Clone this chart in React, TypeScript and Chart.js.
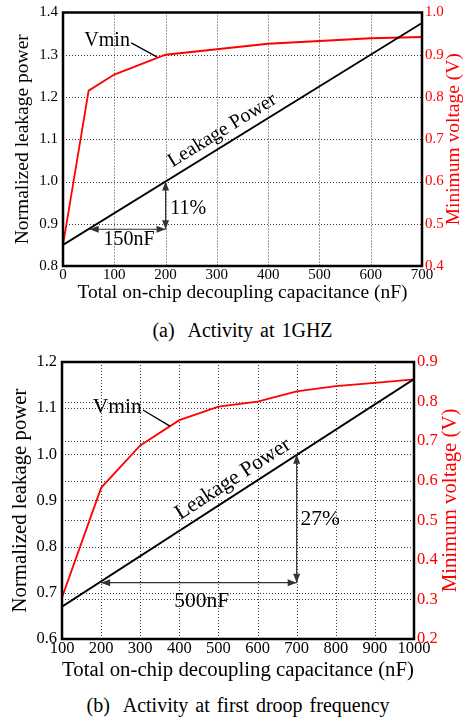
import React, { useEffect, useRef } from "react";
import { Chart, registerables } from "chart.js";

Chart.register(...registerables);

const SERIF = '"Liberation Serif", "Times New Roman", serif';
const W = 473;

// ---------- Panel (a): Activity at 1GHZ ----------
const A_LEAK_X = [0, 700];
const A_LEAK_Y = [0.85, 1.375];
const A_VMIN_X = [0, 50, 100, 200, 400, 600, 700];
const A_VMIN_Y = [0.45, 0.815, 0.853, 0.9, 0.926, 0.939, 0.942];
const A_X_TICKS = [0, 100, 200, 300, 400, 500, 600, 700];
const A_YL_TICKS = [0.8, 0.9, 1.0, 1.1, 1.2, 1.3, 1.4];
const A_YR_TICKS = [0.4, 0.5, 0.6, 0.7, 0.8, 0.9, 1.0];

// ---------- Panel (b): Activity at first droop frequency ----------
const B_LEAK_X = [100, 1000];
const B_LEAK_Y = [0.67, 1.163];
const B_VMIN_X = [100, 200, 300, 400, 500, 600, 700, 800, 900, 1000];
const B_VMIN_Y = [0.305, 0.582, 0.689, 0.753, 0.787, 0.8, 0.826, 0.839, 0.847, 0.856];
const B_X_TICKS = [100, 200, 300, 400, 500, 600, 700, 800, 900, 1000];
const B_YL_TICKS = [0.6, 0.7, 0.8, 0.9, 1.0, 1.1, 1.2];
const B_YR_TICKS = [0.2, 0.3, 0.4, 0.5, 0.6, 0.7, 0.8, 0.9];

// annotations (data coordinates, left axis)
const A_ANN = {
  vminLabel: [86, 1.321],
  leader: [[133, 1.328], [183, 1.295]],
  leakLabel: [316, 1.11],
  arrows: [
    [[52, 0.887], [200, 0.887]],
    [[200, 0.887], [200, 1.0]],
  ],
  texts: [
    ["11%", 244, 0.923],
    ["150nF", 129, 0.849],
  ],
};
const B_ANN = {
  vminLabel: [241, 1.09],
  leader: [[307, 1.096], [376, 1.061]],
  leakLabel: [545, 0.936],
  arrows: [
    [[200, 0.722], [700, 0.722]],
    [[700, 0.722], [700, 0.999]],
  ],
  texts: [
    ["27%", 760, 0.847],
    ["500nF", 457, 0.67],
  ],
};

const PANEL_A = {
  top: 0,
  height: 310,
  area: { left: 63, right: 422, top: 9, bottom: 266 },
  leakX: A_LEAK_X, leakY: A_LEAK_Y, vminX: A_VMIN_X, vminY: A_VMIN_Y,
  xTicks: A_X_TICKS, ylTicks: A_YL_TICKS, yrTicks: A_YR_TICKS,
  tickSize: 15, tickPadX: 2, tickPadY: 5, tickPadY1: 3,
  titleSize: 19.5, xTitlePad: 5.3, yTitlePad: 11, rTitleOff: 32,
  annSize: 20,
  ann: A_ANN,
};
const PANEL_B = {
  top: 340,
  height: 350,
  area: { left: 62, right: 414, top: 22, bottom: 299 },
  leakX: B_LEAK_X, leakY: B_LEAK_Y, vminX: B_VMIN_X, vminY: B_VMIN_Y,
  xTicks: B_X_TICKS, ylTicks: B_YL_TICKS, yrTicks: B_YR_TICKS,
  tickSize: 16.5, tickPadX: 1, tickPadY: 5, tickPadY1: 3,
  titleSize: 20.8, xTitlePad: 6.5, yTitlePad: 8, rTitleOff: 37,
  annSize: 21.5,
  ann: B_ANN,
};

function drawArrowHead(ctx: CanvasRenderingContext2D, x: number, y: number, ang: number) {
  const len = 9;
  const hw = 3.5;
  ctx.beginPath();
  ctx.moveTo(x, y);
  ctx.lineTo(x - len * Math.cos(ang) + hw * Math.sin(ang), y - len * Math.sin(ang) - hw * Math.cos(ang));
  ctx.lineTo(x - len * Math.cos(ang) - hw * Math.sin(ang), y - len * Math.sin(ang) + hw * Math.cos(ang));
  ctx.closePath();
  ctx.fill();
}

function Panel({ p }: { p: any }) {
  const ref = useRef<HTMLCanvasElement>(null);
  useEffect(() => {
    const font = (size: number) => ({ family: SERIF, size, lineHeight: 1 });
    const grid = { display: false, drawTicks: false };
    const border = { display: false };

    const gridPlugin = {
      id: "dottedGrid",
      beforeDatasetsDraw(chart: any) {
        const ctx: CanvasRenderingContext2D = chart.ctx;
        const { left, right, top, bottom } = chart.chartArea;
        ctx.save();
        ctx.strokeStyle = "#3a3a3a";
        ctx.lineWidth = 1;
        ctx.setLineDash([1, 2]);
        const xs = chart.scales.x;
        for (const t of xs.ticks) {
          const x = Math.round(xs.getPixelForValue(t.value)) + 0.5;
          if (x <= left + 1 || x >= right - 1) continue;
          ctx.beginPath();
          ctx.moveTo(x, top);
          ctx.lineTo(x, bottom);
          ctx.stroke();
        }
        for (const id of ["y", "y1"]) {
          const ys = chart.scales[id];
          for (const t of ys.ticks) {
            const y = Math.round(ys.getPixelForValue(t.value)) + 0.5;
            if (y <= top + 1 || y >= bottom - 1) continue;
            ctx.beginPath();
            ctx.moveTo(left, y);
            ctx.lineTo(right, y);
            ctx.stroke();
          }
        }
        ctx.restore();
      },
    };

    const annPlugin = {
      id: "ann",
      afterDraw(chart: any) {
        const ctx: CanvasRenderingContext2D = chart.ctx;
        const { left, right, top, bottom } = chart.chartArea;
        const xs = chart.scales.x;
        const ys = chart.scales.y;
        const px = (v: number) => xs.getPixelForValue(v);
        const py = (v: number) => ys.getPixelForValue(v);
        ctx.save();
        // frame
        ctx.strokeStyle = "#000";
        ctx.lineWidth = 2.5;
        ctx.setLineDash([]);
        ctx.strokeRect(left, top, right - left, bottom - top);

        // right axis title (reads bottom-to-top)
        ctx.save();
        ctx.translate(right + p.rTitleOff, (top + bottom) / 2);
        ctx.rotate(-Math.PI / 2);
        ctx.fillStyle = "#ff0000";
        ctx.font = `${p.titleSize}px ${SERIF}`;
        ctx.textAlign = "center";
        ctx.textBaseline = "middle";
        ctx.fillText("Minimum voltage (V)", 0, 0);
        ctx.restore();

        const a = p.ann;
        ctx.fillStyle = "#000";
        ctx.font = `${p.annSize}px ${SERIF}`;
        ctx.textAlign = "center";
        ctx.textBaseline = "alphabetic";
        // Vmin label + leader
        ctx.fillText("Vmin", px(a.vminLabel[0]), py(a.vminLabel[1]));
        ctx.strokeStyle = "#000";
        ctx.lineWidth = 1.3;
        ctx.beginPath();
        ctx.moveTo(px(a.leader[0][0]), py(a.leader[0][1]));
        ctx.lineTo(px(a.leader[1][0]), py(a.leader[1][1]));
        ctx.stroke();

        // Leakage Power label, rotated along the line
        const x1 = px(p.leakX[0]), y1 = py(p.leakY[0]);
        const x2 = px(p.leakX[1]), y2 = py(p.leakY[1]);
        const ang = Math.atan2(y2 - y1, x2 - x1);
        ctx.save();
        ctx.translate(px(a.leakLabel[0]), py(a.leakLabel[1]));
        ctx.rotate(ang);
        ctx.fillText("Leakage Power", 0, 0);
        ctx.restore();

        // arrows
        ctx.strokeStyle = "#333";
        ctx.fillStyle = "#333";
        ctx.lineWidth = 1.2;
        for (const [s, e] of a.arrows) {
          const sx = px(s[0]), sy = py(s[1]), ex = px(e[0]), ey = py(e[1]);
          ctx.beginPath();
          ctx.moveTo(sx, sy);
          ctx.lineTo(ex, ey);
          ctx.stroke();
          const t = Math.atan2(ey - sy, ex - sx);
          drawArrowHead(ctx, ex, ey, t);
          drawArrowHead(ctx, sx, sy, t + Math.PI);
        }
        ctx.fillStyle = "#000";
        for (const [txt, tx, ty] of a.texts) {
          ctx.fillText(txt, px(tx), py(ty));
        }
        ctx.restore();
      },
    };

    const chart = new Chart(ref.current!, {
      type: "line",
      data: {
        datasets: [
          {
            label: "Leakage Power",
            data: p.leakX.map((x: number, i: number) => ({ x, y: p.leakY[i] })),
            borderColor: "#000",
            borderWidth: 1.8,
            pointRadius: 0,
            yAxisID: "y",
            tension: 0,
          },
          {
            label: "Vmin",
            data: p.vminX.map((x: number, i: number) => ({ x, y: p.vminY[i] })),
            borderColor: "#ff0000",
            borderWidth: 1.8,
            pointRadius: 0,
            yAxisID: "y1",
            tension: 0,
          },
        ],
      },
      options: {
        animation: false,
        responsive: true,
        maintainAspectRatio: false,
        devicePixelRatio: 1,
        layout: { padding: { top: p.area.top, left: 0, right: 0, bottom: 0 } },
        plugins: { legend: { display: false }, tooltip: { enabled: false } },
        scales: {
          x: {
            type: "linear",
            position: "bottom",
            min: p.xTicks[0],
            max: p.xTicks[p.xTicks.length - 1],
            afterBuildTicks: (s: any) => {
              s.ticks = p.xTicks.map((v: number) => ({ value: v }));
            },
            afterFit: (s: any) => {
              s.height = p.height - p.area.bottom;
            },
            ticks: {
              font: font(p.tickSize),
              color: "#000",
              padding: p.tickPadX,
              maxRotation: 0,
              minRotation: 0,
              autoSkip: false,
              callback: (v: any) => String(v),
            },
            grid,
            border,
            title: {
              display: true,
              text: "Total on-chip decoupling capacitance (nF)",
              font: { family: SERIF, size: p.titleSize, lineHeight: 1.2 },
              color: "#000",
              padding: { top: 0, bottom: p.xTitlePad },
            },
          },
          y: {
            type: "linear",
            position: "left",
            min: p.ylTicks[0],
            max: p.ylTicks[p.ylTicks.length - 1],
            afterBuildTicks: (s: any) => {
              s.ticks = p.ylTicks.map((v: number) => ({ value: v }));
            },
            afterFit: (s: any) => {
              s.width = p.area.left;
            },
            ticks: {
              font: font(p.tickSize),
              color: "#000",
              padding: p.tickPadY,
              callback: (v: any) => Number(v).toFixed(1),
            },
            grid,
            border,
            title: {
              display: true,
              text: "Normalized leakage power",
              font: { family: SERIF, size: p.titleSize, lineHeight: 1.2 },
              color: "#000",
              padding: { top: p.yTitlePad, bottom: 0 },
            },
          },
          y1: {
            type: "linear",
            position: "right",
            min: p.yrTicks[0],
            max: p.yrTicks[p.yrTicks.length - 1],
            afterBuildTicks: (s: any) => {
              s.ticks = p.yrTicks.map((v: number) => ({ value: v }));
            },
            afterFit: (s: any) => {
              s.width = W - p.area.right;
            },
            ticks: {
              font: font(p.tickSize),
              color: "#ff0000",
              padding: p.tickPadY1,
              callback: (v: any) => Number(v).toFixed(1),
            },
            grid,
            border,
          },
        },
      },
      plugins: [gridPlugin, annPlugin],
    } as any);
    return () => chart.destroy();
  }, [p]);
  return (
    <div style={{ position: "absolute", left: 0, top: p.top, width: W, height: p.height }}>
      <canvas ref={ref} />
    </div>
  );
}

function Caption({ text, top, cx }: { text: string; top: number; cx: number }) {
  return (
    <div
      style={{
        position: "absolute",
        left: cx - 200,
        width: 400,
        top,
        textAlign: "center",
        fontFamily: SERIF,
        fontSize: 20,
        lineHeight: "20px",
        wordSpacing: 2,
        whiteSpace: "pre",
        color: "#000",
      }}
    >
      {text}
    </div>
  );
}

export default function App() {
  return (
    <div style={{ position: "absolute", left: 0, top: 0, width: W, height: 723, background: "#fff" }}>
      <Panel p={PANEL_A} />
      <Caption text="(a)  Activity at 1GHZ" top={320} cx={242.5} />
      <Panel p={PANEL_B} />
      <Caption text="(b)  Activity at first droop frequency" top={695} cx={238} />
    </div>
  );
}
